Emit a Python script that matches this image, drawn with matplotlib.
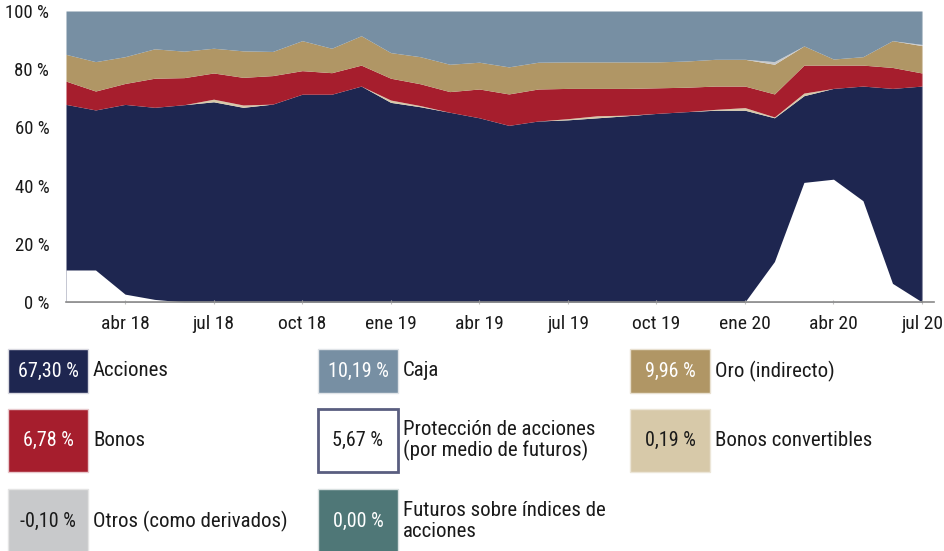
import matplotlib
matplotlib.use("Agg")
import matplotlib.pyplot as plt
from matplotlib.patches import Rectangle
import numpy as np

plt.rcParams['font.family'] = ['Liberation Sans Narrow', 'Roboto Condensed', 'DejaVu Sans']

# ---- data (monthly, Feb 2018 .. Jul 2020) ----
months = list(range(30))
acciones = [67.9, 66.0, 67.9, 66.9, 67.8, 68.8, 66.9, 68.0, 71.4, 71.4,
            74.2, 68.6, 67.1, 65.2, 63.3, 60.7, 62.2, 62.6, 63.3, 64.0,
            64.8, 65.4, 65.9, 65.9, 63.3, 70.9, 73.4, 74.2, 73.4, 74.2]
proteccion = [11.0, 11.0, 2.7, 0.9, 0, 0, 0, 0, 0, 0,
              0, 0, 0, 0, 0, 0, 0, 0, 0, 0,
              0, 0, 0, 0, 13.9, 41.1, 42.2, 34.8, 6.4, 0]
convertibles = [0, 0, 0, 0, 0, 0.9, 0.8, 0, 0, 0,
                0, 0.8, 0.4, 0, 0, 0, 0, 0.4, 0.7, 0.2,
                0, 0, 0.3, 0.9, 0.3, 0.9, 0, 0, 0, 0]
bonos = [8.0, 6.5, 7.2, 10.0, 9.3, 9.0, 9.5, 9.8, 8.1, 7.4,
         7.2, 7.5, 7.5, 7.1, 9.9, 10.8, 11.0, 10.4, 9.4, 9.2,
         8.8, 8.4, 8.0, 7.4, 7.9, 9.6, 8.0, 7.2, 7.2, 4.5]
oro = [9.2, 10.1, 9.2, 10.1, 9.1, 8.5, 9.1, 8.3, 10.3, 8.4,
       10.1, 8.8, 9.3, 9.4, 9.2, 9.3, 9.2, 9.1, 9.1, 9.1,
       8.9, 9.0, 9.2, 9.2, 10.2, 6.6, 2.1, 2.9, 9.2, 9.4]
otros = [0, 0, 0, 0, 0, 0, 0, 0, 0, 0,
         0, 0, 0, 0, 0, 0, 0, 0, 0, 0,
         0, 0, 0, 0, 0.9, 0, 0, 0, 0, 0.4]
caja = [14.9, 17.4, 15.7, 13.0, 13.8, 12.8, 13.7, 13.9, 10.2, 12.8,
        8.5, 14.3, 15.7, 18.3, 17.6, 19.2, 17.6, 17.5, 17.5, 17.5,
        17.5, 17.2, 16.6, 16.6, 17.4, 12.0, 16.5, 15.7, 10.2, 11.5]

tick_pos = [2, 5, 8, 11, 14, 17, 20, 23, 26, 29]
tick_labels = ['abr 18', 'jul 18', 'oct 18', 'ene 19', 'abr 19',
               'jul 19', 'oct 19', 'ene 20', 'abr 20', 'jul 20']
y_ticks = [0, 20, 40, 60, 80, 100]
y_labels = ['0 %', '20 %', '40 %', '60 %', '80 %', '100 %']

leg_values = ['67,30 %', '10,19 %', '9,96 %',
              '6,78 %', '5,67 %', '0,19 %',
              '-0,10 %', '0,00 %']
leg_labels = ['Acciones', 'Caja', 'Oro (indirecto)',
              'Bonos', 'Protección de acciones\n(por medio de futuros)', 'Bonos convertibles',
              'Otros (como derivados)', 'Futuros sobre índices de\nacciones']

C_NAVY = '#1e2650'
C_RED = '#a61e2d'
C_GOLD = '#b09665'
C_CAJA = '#778fa3'
C_BEIGE = '#d7c9a9'
C_OTROS = '#c8c9cb'
C_TEAL = '#4f7777'
C_PROT_EDGE = '#5a5e80'

leg_fill = [C_NAVY, C_CAJA, C_GOLD, C_RED, 'white', C_BEIGE, C_OTROS, C_TEAL]
leg_txtc = ['white', 'white', 'white', 'white', '#1a1a1a', '#1a1a1a', '#1a1a1a', 'white']
leg_edge = ['#d8d8e0', '#e0e4e8', '#e8e0d0', '#e8c8cc', C_PROT_EDGE, '#ece6d8', '#e4e4e4', '#d8e0e0']

# ---- figure ----
W, H = 944, 551
fig = plt.figure(figsize=(W / 100, H / 100), dpi=100)

def fx(x):
    return x / W

def fy(y):
    return 1 - y / H

x0, x1, yt, yb = 66, 922, 11, 302
ax = fig.add_axes([fx(x0), fy(yb), fx(x1) - fx(x0), fy(yt) - fy(yb)])

x = np.array(months)
acc = np.array(acciones)
prot = np.array(proteccion)
layers = [np.array(convertibles), np.array(bonos), np.array(oro),
          np.array(otros), np.array(caja)]
colors = [C_BEIGE, C_RED, C_GOLD, C_OTROS, C_CAJA]

ax.fill_between(x, 0, acc, color=C_NAVY, lw=0)
ax.fill_between(x, 0, prot, color='white', lw=0)
base = acc.copy()
for lay, col in zip(layers, colors):
    ax.fill_between(x, base, base + lay, color=col, lw=0)
    base = base + lay

ax.set_xlim(0, 29)
ax.set_ylim(0, 100)
for s in ['top', 'left', 'right']:
    ax.spines[s].set_visible(False)
ax.spines['bottom'].set_color('#8a8a8a')
ax.spines['bottom'].set_linewidth(1.2)
ax.plot([29, 29.4], [0, 0], color='#8a8a8a', lw=1.2, clip_on=False)
ax.axvline(29, color='#d8d8d8', lw=0.8)

ax.set_yticks(y_ticks)
ax.set_yticklabels(y_labels, fontsize=13.5, color='#1a1a1a')
ax.set_xticks(tick_pos)
ax.set_xticklabels(tick_labels, fontsize=14, color='#1a1a1a')
ax.tick_params(axis='y', length=0, pad=12)
ax.tick_params(axis='x', length=3, color='#c0c0c0', direction='inout', pad=8)

# ---- legend ----
col_x = [8, 318, 630]
rows = [(349, 393), (409, 472), (489, 553)]
for k in range(8):
    r, c = divmod(k, 3)
    bx = col_x[c]
    top, bot = rows[r]
    lw = 2.0 if k == 4 else 1.0
    rect = Rectangle((fx(bx), fy(bot)), fx(80), fy(top) - fy(bot),
                     transform=fig.transFigure, facecolor=leg_fill[k],
                     edgecolor=leg_edge[k], lw=lw)
    fig.patches.append(rect)
    cy = (top + bot) / 2
    fig.text(fx(bx + 40), fy(cy), leg_values[k], ha='center', va='center',
             fontsize=14.5, color=leg_txtc[k])
    fig.text(fx(bx + 85), fy(cy), leg_labels[k], ha='left', va='center',
             fontsize=15, color='#1a1a1a', linespacing=1.1)

fig.savefig('out.png', dpi=100)
